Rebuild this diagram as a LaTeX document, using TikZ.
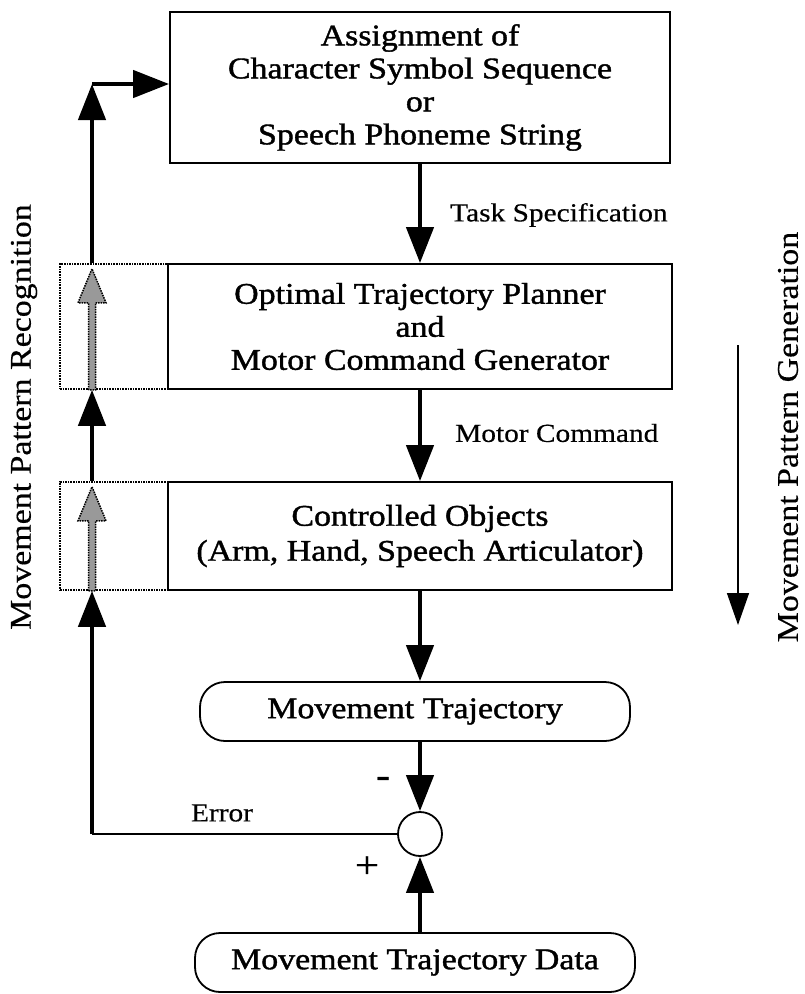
\documentclass[tikz,border=0pt]{standalone}
\usepackage{fontspec}
\setmainfont[FakeStretch=1.13,FakeBold=0.4]{Liberation Serif}
\newfontfamily\heavy[FakeStretch=1.13,FakeBold=1.3]{Liberation Serif}
\usetikzlibrary{arrows.meta,patterns}
\begin{document}
\begin{tikzpicture}[x=1pt,y=-1pt,
  box/.style={draw,line width=1.8pt,align=center,inner sep=0pt,font=\heavy\fontsize{30}{33}\selectfont},
  dotbox/.style={draw,line width=1.6pt,densely dotted,inner sep=0pt},
  rbox/.style={box,rounded corners=25pt},
  lbl/.style={font=\fontsize{26}{30}\selectfont,inner sep=0pt},
  side/.style={font=\fontsize{30}{33}\selectfont,inner sep=0pt,rotate=90},
  arr/.style={line width=4.5pt,-{Triangle[length=36pt,width=27pt]}},
  thinarr/.style={line width=1.5pt,-{Triangle[length=32pt,width=22pt]}},
  hatch/.style={draw=black,densely dotted,line width=1.5pt,fill=black!40}
]
\useasboundingbox (0,0) rectangle (805,994);

% boxes
\node[box,minimum width=500pt,minimum height=151pt] (top) at (420,87.5)
  {Assignment of\\Character Symbol Sequence\\or\\Speech Phoneme String};
\node[box,minimum width=504pt,minimum height=125pt] (opt) at (420,326.5)
  {Optimal Trajectory Planner\\and\\Motor Command Generator};
\node[dotbox,minimum width=108pt,minimum height=125pt] (optL) at (114,326.5) {};
\node[box,minimum width=504pt,minimum height=108pt,font=\heavy\fontsize{30}{35}\selectfont] (ctrl) at (420,536)
  {Controlled Objects\\(Arm, Hand, Speech Articulator)};
\node[dotbox,minimum width=108pt,minimum height=108pt] (ctrlL) at (114,536) {};
\node[rbox,minimum width=430pt,minimum height=59pt] (traj) at (415,711.5) {Movement Trajectory};
\node[draw,circle,line width=1.8pt,minimum size=44pt,inner sep=0pt] (sum) at (420,834) {};
\node[rbox,minimum width=440pt,minimum height=59pt] (data) at (415,962.5) {Movement Trajectory Data};

% labels
\node[lbl,anchor=west] (ts) at (450,215) {Task Specification};
\node[lbl,anchor=west] (mc) at (455,433) {Motor Command};
\node[lbl] (err) at (222,813) {Error};
\node[font=\heavy\fontsize{36}{36}\selectfont,inner sep=0pt] (minus) at (383,782) {-};
\node[font=\fontsize{38}{38}\selectfont,inner sep=0pt] (plus) at (367,867) {+};
\node[side] (rec) at (24,417) {Movement Pattern Recognition};
\node[side] (gen) at (788,437) {Movement Pattern Generation};

% hatched arrows inside dotted boxes
\begin{scope}[shift={(optL.south)}]
  \draw[hatch] (-25.5,0) -- (-25.5,-87) -- (-36,-87) -- (-22,-121) -- (-8,-87) -- (-18.5,-87) -- (-18.5,0) -- cycle;
\end{scope}
\begin{scope}[shift={(ctrlL.south)}]
  \draw[hatch] (-25.5,0) -- (-25.5,-70) -- (-36,-70) -- (-22,-104) -- (-8,-70) -- (-18.5,-70) -- (-18.5,0) -- cycle;
\end{scope}

% main chain
\draw[arr] (top.south) -- (opt.north);
\draw[arr] (opt.south) -- (ctrl.north);
\draw[arr] (ctrl.south) -- (ctrl.south |- traj.north);
\draw[arr] (ctrl.south |- traj.south) -- (sum.north);
\draw[arr] (ctrl.south |- data.north) -- (sum.south);

% feedback loop
\coordinate (corner) at (92,84);
\draw[line width=2.8pt] (sum.west) -- (sum.west -| corner);
\draw[arr] (sum.west -| corner) -- (ctrlL.south -| corner);
\draw[arr] (ctrlL.north -| corner) -- (optL.south -| corner);
\draw[arr] (optL.north -| corner) -- (corner);
\draw[arr] (corner) -- (corner -| top.west);

% generation arrow
\coordinate (g1) at (738,345);
\coordinate (g2) at (738,625);
\draw[thinarr] (g1) -- (g2);
\end{tikzpicture}
\end{document}
